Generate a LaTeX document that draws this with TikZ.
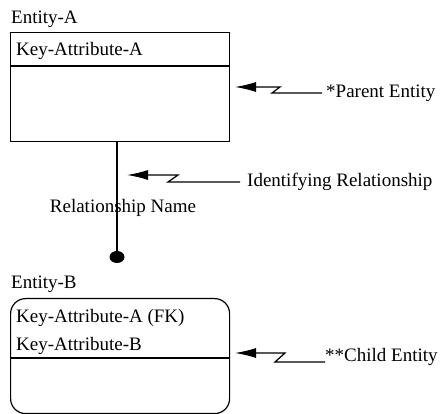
\documentclass[tikz,border=0pt]{standalone}
\usepackage{fontspec}
\setmainfont{Liberation Serif}
\usetikzlibrary{shapes.geometric, arrows.meta, positioning}
\tikzset{
    entity/.style={
        rectangle, draw=black, line width=1.2pt, inner sep=0pt,
        minimum width=219pt
    },
    txt/.style={inner sep=0pt},
    divider/.style={draw=black, line width=1.2pt},
    relline/.style={draw=black, line width=1.2pt},
    enddot/.style={ellipse, fill=black, inner sep=0pt, minimum width=15pt, minimum height=12pt},
    note/.style={txt, anchor=west},
    callout/.style={draw=black, line width=1.2pt, -{Latex[length=21pt, width=10pt]}}
}

\begin{document}
\begin{tikzpicture}[x=1pt, y=-1pt, font=\fontsize{19}{22}\selectfont]
\useasboundingbox (0,0) rectangle (440,414);

% Parent entity
\node[entity, minimum height=109pt, anchor=north west] (entA) at (10,32) {};
\node[txt, above right=4pt and 1pt of entA.north west] (nameA) {Entity-A};
\node[txt, below right=10pt and 6pt of entA.north west] (keyA) {Key-Attribute-A};
\coordinate (divA) at (0,66);
\draw[divider] (entA.west |- divA) -- (entA.east |- divA);

% Child entity
\node[entity, rounded corners=15pt, minimum height=115pt, anchor=north west] (entB) at (10,298) {};
\node[txt, above right=5pt and 1pt of entB.north west] (nameB) {Entity-B};
\node[txt, below right=11pt and 6pt of entB.north west] (keyBa) {Key-Attribute-A (FK)};
\node[txt, below right=10pt and 0pt of keyBa.south west] (keyBb) {Key-Attribute-B};
\coordinate (divB) at (0,358);
\draw[divider] (entB.west |- divB) -- (entB.east |- divB);

% Relationship
\node[txt, anchor=base] (relName) at (123,213) {Relationship Name};
\node[enddot] (relDot) at (117,257) {};
\draw[relline] (entA.south -| relDot) -- (relDot);

% Callouts
\node[note] (noteParent) at (326,93) {*Parent Entity};
\coordinate (tipParent) at (235,87);
\draw[callout] ([xshift=-4pt]noteParent.west) -- ++(-50,0) -- ++(8,-6) -- (tipParent);

\node[note] (noteIdent) at (247,182) {Identifying Relationship};
\coordinate (tipIdent) at (127,175);
\draw[callout] ([xshift=-7pt]noteIdent.west) -- ++(-72,0) -- ++(10,-7) -- (tipIdent);

\node[note] (noteChild) at (325,357) {**Child Entity};
\coordinate (tipChild) at (235,353);
\draw[callout] ([yshift=-5pt]noteChild.west) -- ++(-50,0) -- ++(10,-9) -- (tipChild);

\end{tikzpicture}
\end{document}
